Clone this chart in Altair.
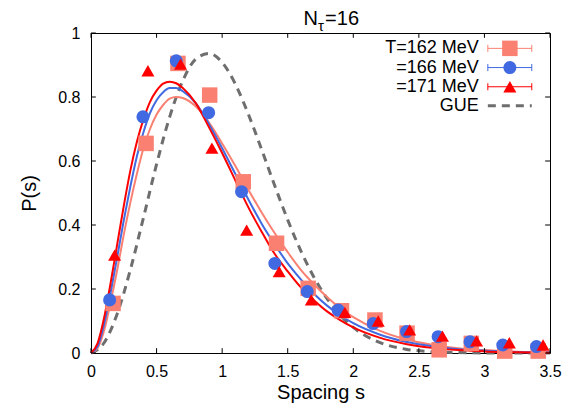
import altair as alt
import pandas as pd

# ---------------- data ----------------
s_162 = [0.168, 0.42, 0.663, 0.905, 1.161, 1.415, 1.656, 1.91, 2.165, 2.41, 2.655, 2.9, 3.155, 3.41]
p_162 = [0.155, 0.655, 0.905, 0.806, 0.535, 0.343, 0.202, 0.132, 0.103, 0.062, 0.01, 0.03, 0.006, 0.006]

s_166 = [0.142, 0.396, 0.65, 0.897, 1.148, 1.402, 1.649, 1.885, 2.152, 2.406, 2.647, 2.89, 3.14, 3.397]
p_166 = [0.166, 0.738, 0.913, 0.751, 0.504, 0.28, 0.192, 0.134, 0.092, 0.067, 0.051, 0.035, 0.025, 0.02]

s_171 = [0.18, 0.434, 0.683, 0.922, 1.187, 1.435, 1.68, 1.936, 2.19, 2.43, 2.68, 2.94, 3.19, 3.447]
p_171 = [0.306, 0.882, 0.903, 0.64, 0.384, 0.254, 0.166, 0.127, 0.10, 0.072, 0.053, 0.038, 0.032, 0.025]

# fitted curves
fit_s = [0, 0.05, 0.1, 0.15, 0.2, 0.25, 0.3, 0.35, 0.4, 0.45, 0.5, 0.55, 0.6, 0.65, 0.7,
         0.8, 0.9, 1.0, 1.1, 1.2, 1.3, 1.4, 1.5, 1.6, 1.7, 1.8, 1.9, 2.0, 2.2, 2.4, 2.6,
         2.8, 3.0, 3.25, 3.5]
fit_171 = [0, 0.03, 0.11, 0.22, 0.34, 0.46, 0.57, 0.66, 0.73, 0.785, 0.82, 0.842, 0.848,
           0.843, 0.828, 0.78, 0.705, 0.625, 0.54, 0.455, 0.38, 0.31, 0.255, 0.205, 0.165,
           0.13, 0.103, 0.08, 0.048, 0.028, 0.016, 0.009, 0.005, 0.002, 0.001]
fit_166 = [0, 0.02, 0.09, 0.19, 0.30, 0.415, 0.52, 0.615, 0.69, 0.75, 0.79, 0.815, 0.828,
           0.828, 0.818, 0.78, 0.715, 0.64, 0.56, 0.48, 0.405, 0.34, 0.28, 0.23, 0.185,
           0.148, 0.118, 0.093, 0.058, 0.035, 0.021, 0.012, 0.007, 0.003, 0.0015]
fit_162 = [0, 0.015, 0.07, 0.16, 0.26, 0.37, 0.47, 0.56, 0.64, 0.70, 0.745, 0.775, 0.795,
           0.80, 0.797, 0.77, 0.72, 0.655, 0.585, 0.51, 0.44, 0.375, 0.315, 0.26, 0.215,
           0.175, 0.14, 0.112, 0.07, 0.043, 0.026, 0.015, 0.009, 0.004, 0.002]

gue_s = [0, 0.1, 0.2, 0.3, 0.4, 0.5, 0.6, 0.7, 0.8, 0.9, 1.0, 1.1, 1.2, 1.3, 1.4, 1.5,
         1.6, 1.7, 1.8, 1.9, 2.0, 2.2, 2.4, 2.6, 2.8, 3.0, 3.5]
gue_p = [0, 0.032, 0.123, 0.260, 0.423, 0.590, 0.738, 0.851, 0.919, 0.936, 0.908, 0.841,
         0.746, 0.637, 0.524, 0.416, 0.319, 0.237, 0.170, 0.118, 0.080, 0.033, 0.012,
         0.004, 0.0012, 0.0003, 0.0]

labels = ["T=162 MeV", "=166 MeV", "=171 MeV"]
colors = ["#FA8072", "#4169E1", "#FF0000"]
shapes = ["square", "circle", "triangle-up"]
sizes = [240, 170, 170]

x_ticks = [0, 0.5, 1, 1.5, 2, 2.5, 3, 3.5]
y_ticks = [0, 0.2, 0.4, 0.6, 0.8, 1]

FONT = "Liberation Sans"

xsc = alt.Scale(domain=[0, 3.5], nice=False, zero=False)
ysc = alt.Scale(domain=[0, 1], nice=False, zero=False)

X = alt.X("s:Q", scale=xsc,
          axis=alt.Axis(values=x_ticks, format="~g", title="Spacing s", grid=False,
                        ticks=False, domain=False, labelPadding=10, titlePadding=3,
                        labelFlush=False, labelOverlap=False,
                        labelFont=FONT, titleFont=FONT, labelFontSize=16, titleFontSize=20,
                        labelColor="black", titleColor="black", titleFontWeight="normal"))
Y = alt.Y("p:Q", scale=ysc,
          axis=alt.Axis(values=y_ticks, format="~g", title="P(s)", grid=False,
                        ticks=False, domain=False, labelPadding=11, titlePadding=18,
                        labelFlush=False, labelOverlap=False,
                        labelFont=FONT, titleFont=FONT, labelFontSize=16, titleFontSize=20,
                        labelColor="black", titleColor="black", titleFontWeight="normal"))

layers = []

# GUE dashed curve
gue_df = pd.DataFrame({"s": gue_s, "p": gue_p})
layers.append(alt.Chart(gue_df).mark_line(color="#6E6E6E", strokeWidth=3,
                                          strokeDash=[8, 6], interpolate="monotone")
              .encode(x=X, y=Y))

# fitted curves
for fit, col in [(fit_162, colors[0]), (fit_166, colors[1]), (fit_171, colors[2])]:
    df = pd.DataFrame({"s": fit_s, "p": fit})
    layers.append(alt.Chart(df).mark_line(color=col, strokeWidth=2, interpolate="monotone")
                  .encode(x=X, y=Y))

# data points
for sv, pv, col, sh, sz in [(s_162, p_162, colors[0], shapes[0], sizes[0]),
                            (s_166, p_166, colors[1], shapes[1], sizes[1]),
                            (s_171, p_171, colors[2], shapes[2], sizes[2])]:
    df = pd.DataFrame({"s": sv, "p": pv})
    layers.append(alt.Chart(df).mark_point(shape=sh, filled=True, color=col, size=sz, opacity=1)
                  .encode(x=X, y=Y))

# inward ticks (gnuplot style, mirrored)
tx = pd.DataFrame({"s": x_ticks})
ty = pd.DataFrame({"p": y_ticks})
tick_x_len = 0.015
tick_y_len = 0.037
layers.append(alt.Chart(tx).mark_rule(color="black", strokeWidth=1)
              .encode(x=alt.X("s:Q", scale=xsc), y=alt.datum(0, scale=ysc), y2=alt.datum(tick_x_len)))
layers.append(alt.Chart(tx).mark_rule(color="black", strokeWidth=1)
              .encode(x=alt.X("s:Q", scale=xsc), y=alt.datum(1, scale=ysc), y2=alt.datum(1 - tick_x_len)))
layers.append(alt.Chart(ty).mark_rule(color="black", strokeWidth=1)
              .encode(y=alt.Y("p:Q", scale=ysc), x=alt.datum(0, scale=xsc), x2=alt.datum(tick_y_len)))
layers.append(alt.Chart(ty).mark_rule(color="black", strokeWidth=1)
              .encode(y=alt.Y("p:Q", scale=ysc), x=alt.datum(3.5, scale=xsc), x2=alt.datum(3.5 - tick_y_len)))

# legend (inside plot, top right)
leg_y = [0.952, 0.892, 0.832]
lx_text, lx0, lx1, lxm = 2.957, 3.026, 3.361, 3.194
cap = 0.011
for i in range(3):
    row = pd.DataFrame({"label": [labels[i]], "p": [leg_y[i]]})
    layers.append(alt.Chart(row).mark_text(align="right", baseline="middle", fontSize=18,
                                           font=FONT, color="black")
                  .encode(x=alt.datum(lx_text, scale=xsc), y=alt.Y("p:Q", scale=ysc), text="label:N"))
    layers.append(alt.Chart(row).mark_rule(color=colors[i], strokeWidth=1)
                  .encode(x=alt.datum(lx0, scale=xsc), x2=alt.datum(lx1), y=alt.Y("p:Q", scale=ysc)))
    for cx in (lx0, lx1):
        layers.append(alt.Chart(row).mark_rule(color=colors[i], strokeWidth=1)
                      .encode(x=alt.datum(cx, scale=xsc),
                              y=alt.datum(leg_y[i] - cap, scale=ysc), y2=alt.datum(leg_y[i] + cap)))
    layers.append(alt.Chart(row).mark_point(shape=shapes[i], filled=True, color=colors[i],
                                            size=sizes[i], opacity=1)
                  .encode(x=alt.datum(lxm, scale=xsc), y=alt.Y("p:Q", scale=ysc)))

gue_row = pd.DataFrame({"label": ["GUE"], "p": [0.773]})
layers.append(alt.Chart(gue_row).mark_text(align="right", baseline="middle", fontSize=18,
                                           font=FONT, color="black")
              .encode(x=alt.datum(lx_text, scale=xsc), y=alt.Y("p:Q", scale=ysc), text="label:N"))
layers.append(alt.Chart(gue_row).mark_rule(color="#6E6E6E", strokeWidth=3, strokeDash=[8, 6])
              .encode(x=alt.datum(lx0, scale=xsc), x2=alt.datum(lx1), y=alt.Y("p:Q", scale=ysc)))

# title N_tau = 16
title_df = pd.DataFrame({"t": ["N"], "p": [1.045]})
layers.append(alt.Chart(title_df).mark_text(align="left", baseline="middle", fontSize=20,
                                            font=FONT, color="black")
              .encode(x=alt.datum(1.62, scale=xsc), y=alt.Y("p:Q", scale=ysc), text="t:N"))
tau_df = pd.DataFrame({"t": ["τ"], "p": [1.022]})
layers.append(alt.Chart(tau_df).mark_text(align="left", baseline="middle", fontSize=15,
                                          font=FONT, color="black")
              .encode(x=alt.datum(1.73, scale=xsc), y=alt.Y("p:Q", scale=ysc), text="t:N"))
eq_df = pd.DataFrame({"t": ["=16"], "p": [1.045]})
layers.append(alt.Chart(eq_df).mark_text(align="left", baseline="middle", fontSize=20,
                                         font=FONT, color="black")
              .encode(x=alt.datum(1.785, scale=xsc), y=alt.Y("p:Q", scale=ysc), text="t:N"))

chart = (alt.layer(*layers)
         .properties(width=459, height=320, background="white",
                     autosize=alt.AutoSizeParams(type="none"),
                     padding={"left": 83, "top": 25, "right": 20, "bottom": 55})
         .configure_view(stroke="black", strokeWidth=1))

chart.save("out.html", embed_options={"renderer": "svg", "actions": False})
